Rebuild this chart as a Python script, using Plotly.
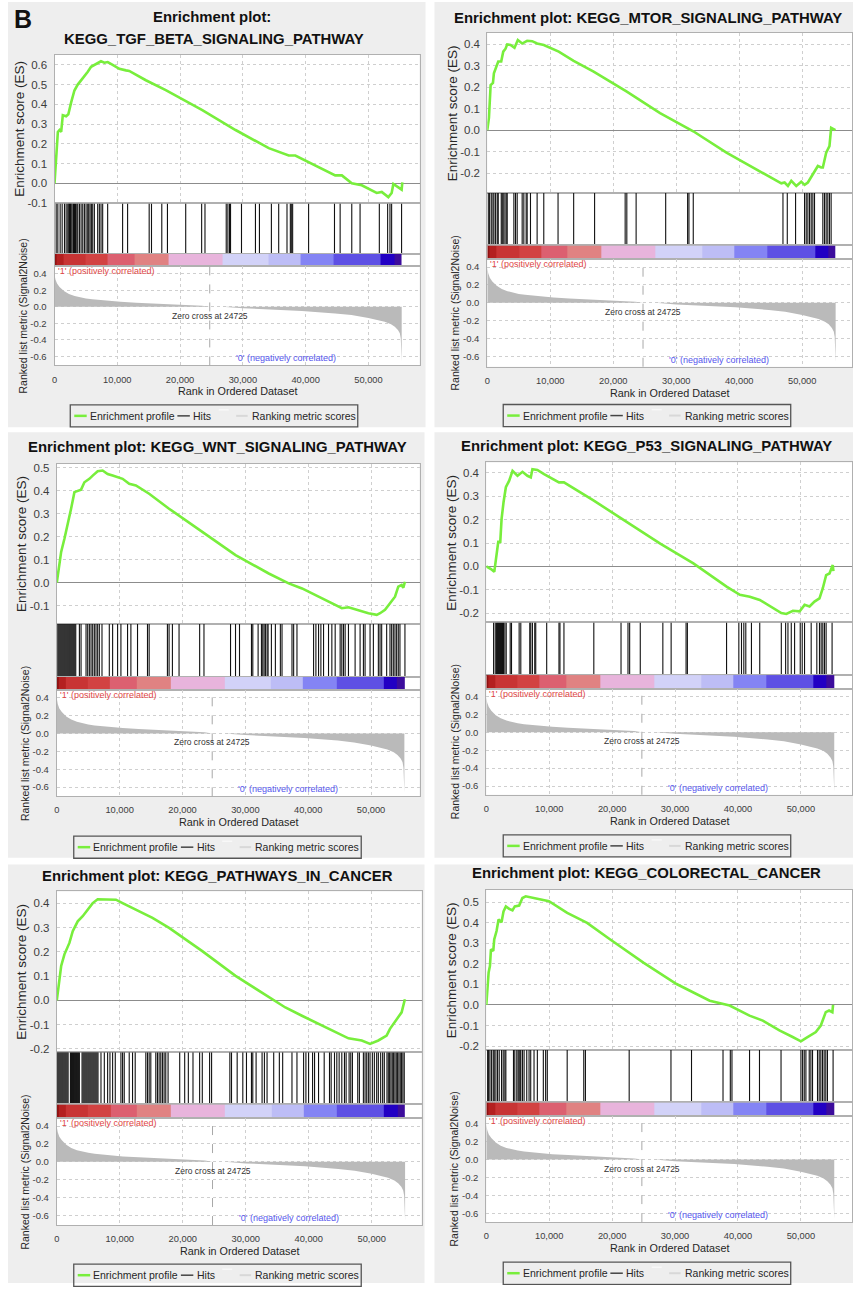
import plotly.graph_objects as go

W, H = 853, 1289
FONT = "Liberation Sans, Arial, Helvetica, sans-serif"

# ---------------------------------------------------------------- data
PANEL_TITLES = [
    ["Enrichment plot:", "KEGG_TGF_BETA_SIGNALING_PATHWAY"],
    ["Enrichment plot: KEGG_MTOR_SIGNALING_PATHWAY"],
    ["Enrichment plot: KEGG_WNT_SIGNALING_PATHWAY"],
    ["Enrichment plot: KEGG_P53_SIGNALING_PATHWAY"],
    ["Enrichment plot: KEGG_PATHWAYS_IN_CANCER"],
    ["Enrichment plot: KEGG_COLORECTAL_CANCER"],
]

TGF_RANK = [0, 160, 370, 530, 800, 1060, 1320, 1850, 2200, 2650, 3170, 3700, 4500, 5300, 5820, 6610,
            7400, 7940, 8470, 9260, 10320, 11380, 11900, 14550, 17720, 23540, 28840, 34130, 37300,
            38360, 41010, 44710, 45770, 47350, 48940, 51320, 52120, 53170, 53700, 53970, 55290, 55400]
TGF_ES = [0, 0.06, 0.18, 0.26, 0.27, 0.26, 0.345, 0.34, 0.35, 0.41, 0.47, 0.50, 0.53, 0.565, 0.59, 0.605,
          0.618, 0.611, 0.614, 0.60, 0.58, 0.572, 0.569, 0.522, 0.472, 0.371, 0.27, 0.178, 0.141,
          0.141, 0.099, 0.04, 0.04, 0.0, -0.01, -0.049, -0.044, -0.07, -0.049, -0.003, -0.032, 0.005]
TGF_HITS = [265, 529, 899, 1217, 1587, 1852, 2116, 2275, 2381, 2540, 2645, 2804, 3015, 3174, 3333,
            3545, 3703, 3968, 4232, 4497, 4761, 5026, 5290, 5449, 5660, 5872, 6084, 6348, 6877, 7142,
            7406, 7671, 8464, 10845, 11640, 15077, 15447, 17087, 17987, 20896, 23436, 23965, 27351,
            27615, 27880, 28037, 29783, 32005, 32640, 34544, 35708, 37030, 37560, 37718, 37930, 40470,
            44595, 45495, 47346, 48669, 51737, 53060, 53430, 53695, 55280]

MTOR_RANK = [0, 260, 530, 900, 1050, 1320, 1740, 2210, 2530, 2900, 3160, 3690, 4320, 4850, 5540, 6330,
             7120, 7910, 8970, 11340, 13710, 16880, 22150, 27430, 32700, 37970, 43250, 46680, 47200,
             47730, 48260, 49050, 49840, 50370, 50890, 51950, 52480, 53010, 53270, 53800, 54320,
             54590, 55120, 55270]
MTOR_ES = [0, 0.057, 0.21, 0.22, 0.265, 0.29, 0.32, 0.32, 0.366, 0.38, 0.40, 0.397, 0.384, 0.42, 0.404,
           0.417, 0.415, 0.404, 0.397, 0.366, 0.323, 0.273, 0.18, 0.08, -0.005, -0.105, -0.19, -0.248,
           -0.244, -0.26, -0.236, -0.26, -0.24, -0.255, -0.244, -0.19, -0.167, -0.174, -0.174, -0.105,
           -0.074, 0.011, 0.003, 0.0]
MTOR_HITS = [158, 369, 633, 897, 1055, 1318, 1582, 1740, 2215, 2373, 2532, 2795, 3006, 3164, 4219, 4483,
             4747, 5538, 5801, 6171, 6329, 6856, 7911, 8966, 11234, 13712, 17035, 21887, 22151, 23628,
             28321, 31802, 32013, 32699, 46939, 47625, 48943, 50367, 50631, 50894, 51158, 51422,
             51686, 51949, 53268, 53532, 53795, 54059, 54323, 54586]

WNT_RANK = [0, 320, 690, 1220, 1740, 2270, 2800, 3330, 3860, 4390, 5180, 5710, 6500, 7290, 8090, 8880,
            10470, 11520, 12580, 14690, 17860, 23150, 28440, 33720, 36890, 39010, 41650, 43760, 45350,
            46410, 48520, 49580, 50900, 51430, 52220, 53010, 53810, 54330, 54860, 55130, 55390]
WNT_ES = [0, 0.062, 0.134, 0.192, 0.25, 0.322, 0.394, 0.40, 0.405, 0.437, 0.452, 0.466, 0.485, 0.488,
          0.473, 0.466, 0.452, 0.43, 0.423, 0.387, 0.322, 0.221, 0.12, 0.04, -0.003, -0.025, -0.061,
          -0.089, -0.111, -0.107, -0.126, -0.133, -0.14, -0.133, -0.118, -0.089, -0.061, -0.017, -0.01,
          -0.022, 0.004]
WNT_HITS = [159, 317, 476, 634, 793, 951, 1110, 1268, 1427, 1586, 1744, 1903, 2061, 2220, 2378, 2537,
            2695, 2854, 3012, 3594, 3858, 4651, 4915, 5179, 5444, 5708, 5972, 6236, 6501, 6765, 7188,
            8351, 8879, 9672, 10200, 11257, 11786, 12843, 14428, 14692, 17599, 17863, 18392, 19449,
            22726, 23413, 27641, 28434, 29068, 30971, 31182, 32028, 32556, 32768, 32979, 33190, 33455,
            33614, 34142, 34775, 35568, 35832, 37418, 37682, 38211, 40853, 41223, 41646, 42016, 42439,
            43231, 43760, 44289, 45081, 45345, 45610, 45874, 46403, 47460, 48253, 48781, 49046, 49839,
            50367, 51160, 51424, 51688, 52481, 53010, 53274, 53538, 53803, 54067, 54331, 54595, 55388]

P53_RANK = [0, 740, 1270, 1530, 1900, 2220, 2430, 2740, 3110, 3640, 4170, 4960, 5750, 6540, 7070, 7330,
            8120, 9180, 10760, 11550, 12340, 17090, 22360, 27640, 32910, 38190, 40300, 41880, 43460,
            45570, 46890, 47680, 48730, 49790, 50580, 51370, 52160, 52950, 53480, 54010, 54540, 55060,
            55170]
P53_ES = [0, -0.011, -0.023, 0.034, 0.105, 0.105, 0.203, 0.274, 0.338, 0.366, 0.408, 0.387, 0.404, 0.387,
          0.38, 0.415, 0.412, 0.394, 0.373, 0.359, 0.359, 0.281, 0.189, 0.097, 0.013, -0.086, -0.121,
          -0.129, -0.143, -0.178, -0.199, -0.203, -0.189, -0.192, -0.164, -0.171, -0.15, -0.136, -0.093,
          -0.037, -0.03, 0.006, -0.02]
P53_HITS = [1160, 1424, 1635, 1793, 1951, 2110, 2268, 2426, 2584, 2742, 2953, 3164, 3797, 4008, 5221,
            5485, 6909, 7067, 7331, 7700, 7858, 9599, 11550, 11708, 12341, 17088, 21412, 22520, 22784,
            24471, 28058, 29376, 31750, 31960, 38184, 40135, 40557, 40926, 41243, 42139, 43458, 46886,
            47571, 47941, 48468, 48996, 49892, 50209, 50578, 51633, 52529, 52951, 53215, 53479, 53742,
            54006, 54955]

CANCER_RANK = [0, 320, 690, 1210, 2000, 2530, 3320, 4110, 4900, 5700, 6490, 7810, 9390, 10440, 12550,
               15190, 17830, 23100, 28380, 33650, 36290, 38920, 41560, 44200, 46310, 48420, 49740,
               51050, 52370, 52900, 53960, 54750, 55270]
CANCER_ES = [0, 0.074, 0.142, 0.19, 0.237, 0.285, 0.326, 0.347, 0.374, 0.401, 0.417, 0.415, 0.415,
             0.401, 0.374, 0.34, 0.299, 0.203, 0.101, 0.012, -0.029, -0.063, -0.097, -0.131, -0.156,
             -0.165, -0.179, -0.165, -0.145, -0.117, -0.076, -0.049, 0.005]
CANCER_HITS = [53, 211, 369, 527, 686, 844, 1002, 1160, 1319, 1477, 1635, 1793, 2162, 2321, 2479, 2637,
               2795, 2953, 3112, 3270, 3428, 3586, 4008, 4166, 4325, 4483, 4641, 4799, 4958, 5116, 5274,
               5432, 5590, 5749, 5907, 6065, 6223, 6382, 6540, 7014, 7542, 8069, 8438, 8860, 9282,
               10179, 10443, 10706, 11497, 12025, 12447, 14134, 14398, 14662, 14925, 15717, 15980,
               16244, 16508, 16771, 17035, 17299, 17668, 19514, 20305, 20885, 21623, 22678, 23100,
               24260, 24577, 27478, 27741, 28638, 29534, 30115, 30906, 31117, 31644, 32593, 32963,
               33384, 34439, 35336, 35863, 37340, 38131, 39186, 39555, 39977, 40610, 40926, 41559,
               42456, 43300, 43563, 44091, 44460, 44829, 45251, 45673, 45937, 46411, 46675, 46939,
               47782, 48046, 48679, 48943, 49206, 49470, 49734, 50103, 50419, 50789, 51052, 51422,
               51738, 52002, 52424, 52635, 52845, 53056, 53267, 53478, 53689, 53900, 54111, 54322,
               54533, 54744, 54955, 55166]

CRC_RANK = [0, 210, 370, 580, 740, 1110, 1260, 1630, 1950, 2420, 2740, 3110, 3640, 4160, 4530, 5220,
            5740, 6270, 7590, 8900, 9960, 12860, 16020, 19700, 24970, 30240, 35510, 38670, 41830, 43940,
            46580, 48690, 50000, 50790, 51840, 52370, 53160, 53950, 54480, 55000, 55110]
CRC_ES = [0, 0.077, 0.158, 0.19, 0.271, 0.263, 0.319, 0.36, 0.416, 0.403, 0.456, 0.48, 0.468, 0.461,
          0.48, 0.484, 0.521, 0.529, 0.521, 0.513, 0.505, 0.448, 0.40, 0.319, 0.206, 0.102, 0.021,
          -0.003, -0.052, -0.076, -0.124, -0.156, -0.177, -0.161, -0.14, -0.132, -0.1, -0.035, -0.027,
          -0.035, 0.0]
CRC_HITS = [211, 369, 580, 843, 1106, 1265, 1528, 1791, 2055, 2424, 2687, 2951, 3109, 4321, 4531, 4847,
            5058, 5216, 5374, 5480, 5743, 6007, 6428, 6797, 7060, 7587, 8114, 9063, 9431, 9695, 12856,
            15491, 15754, 22709, 29348, 32615, 37621, 38780, 39043, 41836, 43417, 46842, 50003, 50267,
            50530, 50794, 51321, 51584, 51848, 52638, 52902, 53165, 53429, 53692, 53956, 54219, 55115]

# ranked list metric (shared by all six panels)
METRIC_RANK = [0, 150, 400, 800, 1500, 2300, 3200, 4000, 5000, 6000, 7500, 8700, 10500, 13000, 16000,
               18200, 21000, 23500, 24725, 26700, 30000, 34000, 39400, 44700, 47300, 50000, 52600,
               53600, 54200, 54700, 55000, 55150, 55250, 55300]
METRIC_VAL = [0.39, 0.33, 0.28, 0.24, 0.19, 0.155, 0.13, 0.115, 0.1, 0.09, 0.078, 0.07, 0.06, 0.05, 0.04,
              0.033, 0.025, 0.013, 0.0, 0.0, -0.018, -0.03, -0.05, -0.08, -0.1, -0.135, -0.18, -0.21,
              -0.24, -0.28, -0.32, -0.38, -0.5, -0.66]
ZERO_CROSS = 24725

# colour strip along the ranked list
STRIP_EDGES = [0, 300, 1500, 5000, 8500, 12700, 18100, 26700, 34100, 39200, 44500, 52000, 54100, 55300]
STRIP_COLORS = ['#8e1212', '#b42020', '#c83434', '#d24242', '#dc6070', '#e08282', '#e8b4dc',
                '#d2d2f8', '#bdbdf6', '#8484f4', '#5e50e4', '#2200c4', '#3c0c9c']

ES_TICKS = [
    [0.6, 0.5, 0.4, 0.3, 0.2, 0.1, 0.0, -0.1],
    [0.4, 0.3, 0.2, 0.1, 0.0, -0.1, -0.2],
    [0.5, 0.4, 0.3, 0.2, 0.1, 0.0, -0.1],
    [0.4, 0.3, 0.2, 0.1, 0.0, -0.1, -0.2],
    [0.4, 0.3, 0.2, 0.1, 0.0, -0.1, -0.2],
    [0.5, 0.4, 0.3, 0.2, 0.1, 0.0, -0.1, -0.2],
]
METRIC_TICKS = [0.4, 0.2, 0.0, -0.2, -0.4, -0.6]
METRIC_TICK_TEXT = ["0.4", "0.2", "0.0", "-0.2", "-0.4", "-0.6"]
X_TICKS = [0, 10000, 20000, 30000, 40000, 50000]
X_TICK_TEXT = ["0", "10,000", "20,000", "30,000", "40,000", "50,000"]

LEGEND_LABELS = ["Enrichment profile", "Hits", "Ranking metric scores"]
POS_LABEL = "'1' (positively correlated)"
NEG_LABEL = "'0' (negatively correlated)"

SERIES = [
    (TGF_RANK, TGF_ES, TGF_HITS),
    (MTOR_RANK, MTOR_ES, MTOR_HITS),
    (WNT_RANK, WNT_ES, WNT_HITS),
    (P53_RANK, P53_ES, P53_HITS),
    (CANCER_RANK, CANCER_ES, CANCER_HITS),
    (CRC_RANK, CRC_ES, CRC_HITS),
]

# ---------------------------------------------------------------- layout (pixels)
GEOM = [
    dict(L=51.7, R=418, es_top=53.3, es_bot=202.7, cb_top=253.3, cb_bot=266, met_bot=365.7,
         es_range=[-0.102, 0.650], met_range=[-0.708, 0.488], xmax=58140, bg=(5, 0, 424, 428),
         title_y=[15, 37], title_cx=[210, 212], leg=(67.5, 405.3)),
    dict(L=486, R=852, es_top=31, es_bot=192, cb_top=245, cb_bot=259, met_bot=367,
         es_range=[-0.292, 0.454], met_range=[-0.714, 0.486], xmax=57900, bg=(433, 0, 853, 428),
         title_y=[16], title_cx=[647], leg=(502, 405)),
    dict(L=54, R=418, es_top=465, es_bot=625.7, cb_top=679, cb_bot=692.3, met_bot=799.3,
         es_range=[-0.179, 0.516], met_range=[-0.703, 0.486], xmax=57710, bg=(5, 433, 423, 861),
         title_y=[448], title_cx=[215.5], leg=(71, 839.3)),
    dict(L=485, R=852, es_top=463.3, es_bot=624.3, cb_top=677.3, cb_bot=691, met_bot=797.7,
         es_range=[-0.239, 0.444], met_range=[-0.696, 0.485], xmax=58120, bg=(433, 433, 853, 861),
         title_y=[446.7], title_cx=[646], leg=(502, 838)),
    dict(L=54, R=420, es_top=895, es_bot=1056.7, cb_top=1109.3, cb_bot=1123.3, met_bot=1230.7,
         es_range=[-0.213, 0.449], met_range=[-0.708, 0.486], xmax=57910, bg=(5, 868, 423, 1289),
         title_y=[879], title_cx=[215], leg=(71, 1270)),
    dict(L=485, R=852, es_top=893.3, es_bot=1054.3, cb_top=1107.3, cb_bot=1121, met_bot=1227.7,
         es_range=[-0.218, 0.561], met_range=[-0.696, 0.485], xmax=58120, bg=(433, 868, 853, 1289),
         title_y=[876.7], title_cx=[646], leg=(502, 1268)),
]

GREEN = '#78ee3c'
GRID = '#cfcfcf'
BORDER = '#b0b0b0'
TICKC = '#3c3c3c'
TEXTC = '#262626'
PANEL_BG = '#eeeeee'
METRIC_GRAY = '#bababa'


def px(x):
    return x / W


def py(y):
    return 1 - y / H


def xn(i):
    return 'x' if i == 1 else f'x{i}'


def yn(i):
    return 'y' if i == 1 else f'y{i}'


def xk(i):
    return 'xaxis' if i == 1 else f'xaxis{i}'


def yk(i):
    return 'yaxis' if i == 1 else f'yaxis{i}'


fig = go.Figure()
layout = {}
shapes = []
annotations = []

ncol = len(STRIP_COLORS)
strip_scale = [[i / (ncol - 1), c] for i, c in enumerate(STRIP_COLORS)]

for p, g in enumerate(GEOM):
    ranks, es, hits = SERIES[p]
    i_es, i_hit, i_cb, i_met = p * 4 + 1, p * 4 + 2, p * 4 + 3, p * 4 + 4
    xdom = [px(g['L']), px(g['R'])]

    # --- traces
    fig.add_trace(go.Scatter(x=ranks, y=es, mode='lines', line=dict(color=GREEN, width=2.6),
                             xaxis=xn(i_es), yaxis=yn(i_es), hoverinfo='skip', showlegend=False))
    hx, hy = [], []
    for h in hits:
        hx += [h, h, None]
        hy += [0, 1, None]
    fig.add_trace(go.Scatter(x=hx, y=hy, mode='lines', line=dict(color='#111111', width=1.1),
                             xaxis=xn(i_hit), yaxis=yn(i_hit), hoverinfo='skip', showlegend=False))
    fig.add_trace(go.Heatmap(z=[list(range(ncol))], x=STRIP_EDGES, y=[0, 1], colorscale=strip_scale,
                             zmin=0, zmax=ncol - 1, showscale=False, hoverinfo='skip',
                             xaxis=xn(i_cb), yaxis=yn(i_cb)))
    fig.add_trace(go.Scatter(x=METRIC_RANK, y=METRIC_VAL, mode='lines', fill='tozeroy',
                             fillcolor=METRIC_GRAY, line=dict(color=METRIC_GRAY, width=0),
                             xaxis=xn(i_met), yaxis=yn(i_met), hoverinfo='skip', showlegend=False))

    common_x = dict(domain=xdom, range=[0, g['xmax']], showline=True, mirror=True, linecolor=BORDER,
                    linewidth=1, zeroline=False, ticks='', fixedrange=True)
    # ES axes
    layout[xk(i_es)] = dict(common_x, anchor=yn(i_es), showgrid=True, gridcolor=GRID, griddash='dot',
                            tickvals=X_TICKS, showticklabels=False)
    layout[yk(i_es)] = dict(domain=[py(g['es_bot']), py(g['es_top'])], range=g['es_range'],
                            anchor=xn(i_es), showgrid=True, gridcolor=GRID, griddash='dot',
                            tickvals=ES_TICKS[p], ticktext=[f"{v:.1f}" for v in ES_TICKS[p]],
                            tickfont=dict(size=11.5, color=TICKC, family=FONT), ticks='',
                            ticklabelstandoff=4, zeroline=True, zerolinecolor='#8c8c8c',
                            zerolinewidth=1, showline=True, mirror=True, linecolor=BORDER,
                            fixedrange=True)
    # hits axes
    layout[xk(i_hit)] = dict(common_x, anchor=yn(i_hit), showgrid=False, showticklabels=False)
    layout[yk(i_hit)] = dict(domain=[py(g['cb_top']), py(g['es_bot'])], range=[0, 1], anchor=xn(i_hit),
                             showgrid=False, showticklabels=False, zeroline=False, showline=True,
                             mirror=True, linecolor=BORDER, ticks='', fixedrange=True)
    # colour strip axes
    layout[xk(i_cb)] = dict(common_x, anchor=yn(i_cb), showgrid=False, showticklabels=False)
    layout[yk(i_cb)] = dict(domain=[py(g['cb_bot']), py(g['cb_top'])], range=[0, 1], anchor=xn(i_cb),
                            showgrid=False, showticklabels=False, zeroline=False, showline=True,
                            mirror=True, linecolor=BORDER, ticks='', fixedrange=True)
    # metric axes
    layout[xk(i_met)] = dict(common_x, anchor=yn(i_met), showgrid=True, gridcolor=GRID, griddash='dot',
                             tickvals=X_TICKS, ticktext=X_TICK_TEXT, ticklabelstandoff=5,
                             tickfont=dict(size=9.3, color=TICKC, family=FONT))
    layout[yk(i_met)] = dict(domain=[py(g['met_bot']), py(g['cb_bot'])], range=g['met_range'],
                             anchor=xn(i_met), showgrid=True, gridcolor=GRID, griddash='dot',
                             tickvals=METRIC_TICKS, ticktext=METRIC_TICK_TEXT, ticks='',
                             ticklabelstandoff=5, tickfont=dict(size=9.5, color=TICKC, family=FONT),
                             zeroline=False, showline=True, mirror=True, linecolor=BORDER,
                             fixedrange=True)

    # --- shapes
    x0, y0, x1, y1 = g['bg']
    shapes.append(dict(type='rect', xref='paper', yref='paper', x0=px(x0), x1=px(x1), y0=py(y1),
                       y1=py(y0), fillcolor=PANEL_BG, line=dict(width=0), layer='below'))
    shapes.append(dict(type='rect', xref='paper', yref='paper', x0=px(g['L']), x1=px(g['R']),
                       y0=py(g['met_bot']), y1=py(g['es_top']), fillcolor='white',
                       line=dict(width=0), layer='below'))
    shapes.append(dict(type='line', xref=xn(i_met), yref=f'{yn(i_met)} domain', x0=ZERO_CROSS,
                       x1=ZERO_CROSS, y0=0, y1=1, line=dict(color='#a8a8a8', width=1, dash='dash')))

    # legend box
    bx, by = g['leg']
    bw, bh = 288.5, 22.3
    cy = by + bh / 2
    shapes.append(dict(type='rect', xref='paper', yref='paper', x0=px(bx), x1=px(bx + bw),
                       y0=py(by + bh), y1=py(by), line=dict(color='#555555', width=1.3),
                       fillcolor='rgba(0,0,0,0)'))
    for (a, b, yy, col, lw) in [(4, 16.5, cy, GREEN, 2.5), (107.5, 120, cy, '#444444', 1.5),
                                (149, 159, cy - 6, '#f8f8f8', 1.5), (166.5, 178, cy, '#d8d8d8', 2)]:
        shapes.append(dict(type='line', xref='paper', yref='paper', x0=px(bx + a), x1=px(bx + b),
                           y0=py(yy), y1=py(yy), line=dict(color=col, width=lw)))
    for (off, txt) in [(17.5, LEGEND_LABELS[0]), (121.5, LEGEND_LABELS[1]), (180, LEGEND_LABELS[2])]:
        annotations.append(dict(xref='paper', yref='paper', x=px(bx + off), y=py(cy), xanchor='left',
                                yanchor='middle', text=txt, showarrow=False,
                                font=dict(size=10.5, color=TEXTC, family=FONT)))

    # --- texts
    for t, ty, tx in zip(PANEL_TITLES[p], g['title_y'], g['title_cx']):
        annotations.append(dict(xref='paper', yref='paper', x=px(tx), y=py(ty), xanchor='center',
                                yanchor='middle', text=f'<b>{t}</b>', showarrow=False,
                                font=dict(size=14.9, color='#111111', family=FONT)))
    annotations.append(dict(xref='paper', yref='paper', x=px(g['L'] - 35),
                            y=py((g['es_top'] + g['es_bot']) / 2), textangle=-90, xanchor='center',
                            yanchor='middle', text='Enrichment score (ES)', showarrow=False,
                            font=dict(size=13.5, color=TEXTC, family=FONT)))
    annotations.append(dict(xref='paper', yref='paper', x=px(g['L'] - 32),
                            y=py((g['cb_bot'] + g['met_bot']) / 2), textangle=-90, xanchor='center',
                            yanchor='middle', text='Ranked list metric (Signal2Noise)', showarrow=False,
                            font=dict(size=10.5, color=TEXTC, family=FONT)))
    annotations.append(dict(xref='paper', yref='paper', x=px((g['L'] + g['R']) / 2),
                            y=py(g['met_bot'] + 26), xanchor='center', yanchor='middle',
                            text='Rank in Ordered Dataset', showarrow=False,
                            font=dict(size=10.8, color=TEXTC, family=FONT)))
    annotations.append(dict(xref=xn(i_met), yref=yn(i_met), x=ZERO_CROSS, y=0, yshift=-9,
                            xanchor='center', yanchor='middle', text=f'Zero cross at {ZERO_CROSS}',
                            showarrow=False, font=dict(size=8.5, color='#333333', family=FONT)))
    annotations.append(dict(xref='paper', yref='paper', x=px(g['L'] + 1), y=py(g['cb_bot'] + 5),
                            xanchor='left', yanchor='middle', text=POS_LABEL, showarrow=False,
                            font=dict(size=9, color='#e04646', family=FONT)))
    annotations.append(dict(xref=xn(i_met), yref='paper', x=36800, y=py(g['met_bot'] - 7),
                            xanchor='center', yanchor='middle', text=NEG_LABEL, showarrow=False,
                            font=dict(size=9, color='#5656ee', family=FONT)))

annotations.append(dict(xref='paper', yref='paper', x=px(20), y=py(17.5), xanchor='center',
                        yanchor='middle', text='<b>B</b>', showarrow=False,
                        font=dict(size=25, color='#111111', family=FONT)))

fig.update_layout(
    width=W, height=H, autosize=False,
    margin=dict(l=0, r=0, t=0, b=0, pad=0),
    paper_bgcolor='white', plot_bgcolor='white',
    showlegend=False, shapes=shapes, annotations=annotations,
    font=dict(family=FONT, color=TEXTC),
    hovermode=False,
    **layout,
)

fig.write_html("out.html",
               config={'displayModeBar': False, 'staticPlot': True},
               post_script="document.body.style.margin='0px';document.body.style.padding='0px';"
                           "document.body.style.overflow='hidden';")
